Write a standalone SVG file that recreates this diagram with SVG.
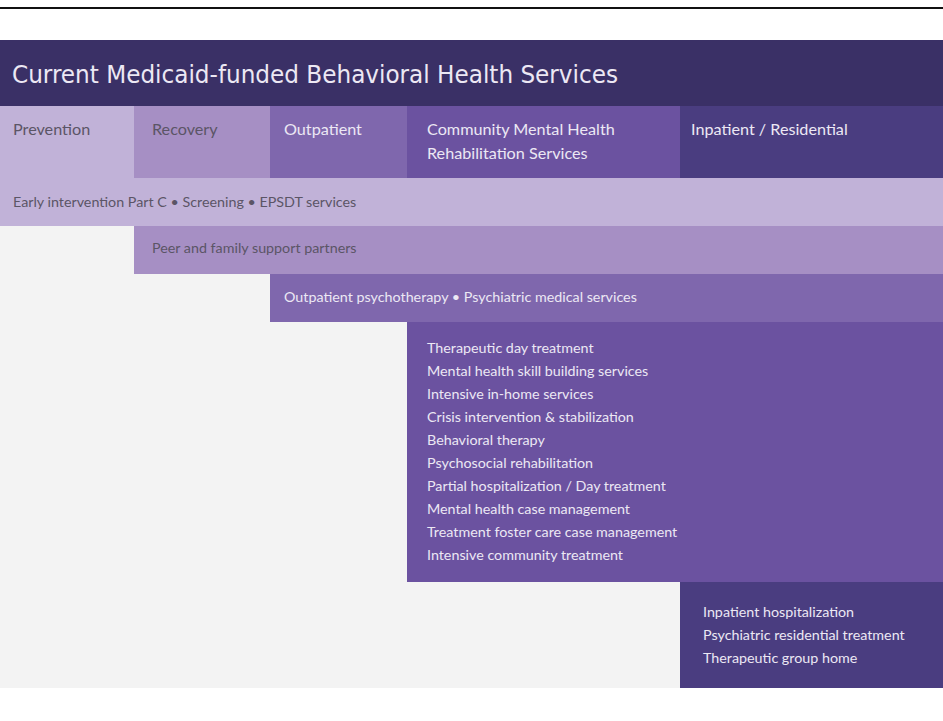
<svg xmlns="http://www.w3.org/2000/svg" width="943" height="721" viewBox="0 0 943 721">
  <style>
    .hd { font-family: Lato, "Open Sans", sans-serif; font-size: 16.2px; }
    .tx { font-family: Lato, "Open Sans", sans-serif; font-size: 14.3px; }
    .dark { fill: #5b5566; }
    .light { fill: #ece8f4; }
    .c1 { fill: #c1b2d8; }
    .c2 { fill: #a68fc4; }
    .c3 { fill: #7f67ad; }
    .c4 { fill: #6b52a0; }
    .c5 { fill: #4a3d80; }
  </style>
  <rect width="943" height="721" fill="#ffffff"/>
  <rect x="0" y="7" width="943" height="2" fill="#111111"/>
  <rect x="0" y="226" width="943" height="462" fill="#f3f3f3"/>

  <g id="title">
    <rect x="0" y="40" width="943" height="66" fill="#3a3066"/>
    <text x="12" y="83" font-family="'DejaVu Sans Condensed', 'DejaVu Sans', sans-serif" font-size="24" fill="#ece8f4" textLength="606" lengthAdjust="spacingAndGlyphs">Current Medicaid-funded Behavioral Health Services</text>
  </g>

  <g id="header">
    <g id="h-prevention"><rect class="c1" x="0" y="106" width="134" height="72"/><text class="hd dark" x="13" y="135">Prevention</text></g>
    <g id="h-recovery"><rect class="c2" x="134" y="106" width="136" height="72"/><text class="hd dark" x="152" y="135">Recovery</text></g>
    <g id="h-outpatient"><rect class="c3" x="270" y="106" width="137" height="72"/><text class="hd light" x="284" y="135">Outpatient</text></g>
    <g id="h-community"><rect class="c4" x="407" y="106" width="273" height="72"/><text class="hd light" x="427" y="135">Community Mental Health</text><text class="hd light" x="427" y="159">Rehabilitation Services</text></g>
    <g id="h-inpatient"><rect class="c5" x="680" y="106" width="263" height="72"/><text class="hd light" x="691" y="135">Inpatient / Residential</text></g>
  </g>

  <g id="band-prevention">
    <rect class="c1" x="0" y="178" width="943" height="48"/>
    <text class="tx dark" x="13" y="207">Early intervention Part C • Screening • EPSDT services</text>
  </g>
  <g id="band-recovery">
    <rect class="c2" x="134" y="226" width="809" height="48"/>
    <text class="tx dark" x="152" y="253">Peer and family support partners</text>
  </g>
  <g id="band-outpatient">
    <rect class="c3" x="270" y="274" width="673" height="48"/>
    <text class="tx light" x="284" y="302">Outpatient psychotherapy • Psychiatric medical services</text>
  </g>
  <g id="band-community">
    <rect class="c4" x="407" y="322" width="536" height="260"/>
    <text class="tx light" x="427" y="353">Therapeutic day treatment</text>
    <text class="tx light" x="427" y="376">Mental health skill building services</text>
    <text class="tx light" x="427" y="399">Intensive in-home services</text>
    <text class="tx light" x="427" y="422">Crisis intervention &amp; stabilization</text>
    <text class="tx light" x="427" y="445">Behavioral therapy</text>
    <text class="tx light" x="427" y="468">Psychosocial rehabilitation</text>
    <text class="tx light" x="427" y="491">Partial hospitalization / Day treatment</text>
    <text class="tx light" x="427" y="514">Mental health case management</text>
    <text class="tx light" x="427" y="537">Treatment foster care case management</text>
    <text class="tx light" x="427" y="560">Intensive community treatment</text>
  </g>
  <g id="band-inpatient">
    <rect class="c5" x="680" y="582" width="263" height="106"/>
    <text class="tx light" x="703" y="617">Inpatient hospitalization</text>
    <text class="tx light" x="703" y="640">Psychiatric residential treatment</text>
    <text class="tx light" x="703" y="663">Therapeutic group home</text>
  </g>
  <g id="connectors"/>
</svg>
